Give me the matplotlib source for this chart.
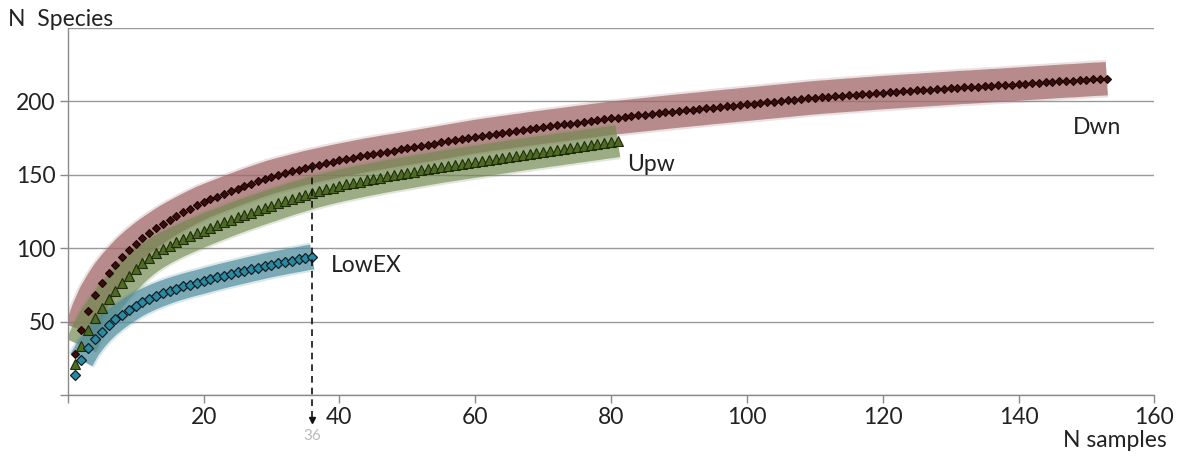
import matplotlib
matplotlib.use('agg')
import matplotlib.pyplot as plt

plt.rcParams['font.family'] = ['Lato', 'DejaVu Sans']

# rarefaction curves, one value per sample
dwn = [28.0, 44.3, 57.5, 68.0, 76.0, 83.0, 88.8, 94.0, 98.8, 103.0,
       106.8, 110.3, 113.5, 116.6, 119.5, 122.1, 124.6, 127.0, 129.3, 131.5,
       133.4, 135.2, 137.0, 138.8, 140.5, 142.2, 143.9, 145.5, 147.1, 148.6,
       149.9, 151.1, 152.3, 153.5, 154.7, 155.8, 156.8, 157.8, 158.8, 159.8,
       160.7, 161.6, 162.5, 163.4, 164.2, 165.0, 165.8, 166.5, 167.3, 168.0,
       168.8, 169.6, 170.4, 171.2, 172.0, 172.8, 173.6, 174.4, 175.2, 176.0,
       176.7, 177.4, 178.0, 178.7, 179.3, 180.0, 180.6, 181.3, 181.9, 182.5,
       183.1, 183.7, 184.3, 184.9, 185.5, 186.1, 186.7, 187.3, 187.9, 188.5,
       189.0, 189.5, 190.0, 190.5, 191.0, 191.5, 192.0, 192.5, 193.0, 193.5,
       193.9, 194.4, 194.8, 195.3, 195.8, 196.2, 196.7, 197.1, 197.6, 198.0,
       198.5, 198.9, 199.4, 199.8, 200.3, 200.7, 201.2, 201.6, 202.1, 202.5,
       202.9, 203.2, 203.6, 203.9, 204.3, 204.6, 205.0, 205.3, 205.7, 206.0,
       206.3, 206.6, 206.9, 207.2, 207.5, 207.8, 208.1, 208.4, 208.7, 209.0,
       209.3, 209.6, 209.8, 210.1, 210.4, 210.7, 210.9, 211.2, 211.5, 211.8,
       212.1, 212.4, 212.7, 213.0, 213.3, 213.6, 213.9, 214.1, 214.4, 214.7,
       215.0, 215.2, 215.5]

upw = [21.0, 33.6, 44.0, 52.5, 59.0, 65.3, 71.0, 76.3, 81.2, 85.8,
       89.8, 93.4, 96.4, 99.1, 101.6, 103.9, 106.0, 108.1, 110.1, 112.0,
       113.9, 115.7, 117.5, 119.3, 121.0, 122.7, 124.3, 125.9, 127.5, 129.0,
       130.6, 132.1, 133.6, 135.0, 136.4, 137.8, 139.0, 140.2, 141.3, 142.4,
       143.4, 144.4, 145.4, 146.3, 147.2, 148.1, 149.0, 149.8, 150.6, 151.4,
       152.2, 153.0, 153.8, 154.6, 155.4, 156.1, 156.8, 157.5, 158.2, 158.9,
       159.6, 160.3, 161.0, 161.7, 162.4, 163.1, 163.8, 164.4, 165.1, 165.7,
       166.4, 167.0, 167.7, 168.3, 169.0, 169.6, 170.3, 170.9, 171.6, 172.2,
       172.9]

lowex = [13.7, 23.7, 31.8, 38.0, 43.2, 47.6, 51.4, 54.8, 57.9, 60.8,
         63.3, 65.5, 67.5, 69.3, 71.0, 72.5, 73.9, 75.2, 76.4, 77.6,
         78.9, 80.1, 81.3, 82.4, 83.5, 84.6, 85.7, 86.7, 87.8, 88.8,
         89.7, 90.6, 91.5, 92.3, 93.2, 94.0]

names = ['Dwn', 'Upw', 'LowEX']
cut_sample = 36

fig = plt.figure(figsize=(11.95, 4.63), dpi=100)
ax = fig.add_axes([0.0567, 0.147, 0.9093, 0.7925])

x_dwn = list(range(1, len(dwn) + 1))
x_upw = list(range(1, len(upw) + 1))
x_low = list(range(1, len(lowex) + 1))

# confidence bands drawn as wide soft strokes (start from sample 2 to keep the tip narrow)
for xs, ys, col, w, a in [(x_dwn, dwn, '#a36a6a', 24, 0.72),
                          (x_upw, upw, '#71884f', 23, 0.62),
                          (x_low, lowex, '#4f8c9e', 18, 0.68)]:
    ax.plot(xs[1:], ys[1:], color=col, lw=w + 3, alpha=0.2, solid_capstyle='butt', zorder=2)
    ax.plot(xs[1:], ys[1:], color=col, lw=w, alpha=a, solid_capstyle='butt', zorder=2)

ax.plot(x_dwn, dwn, ls='none', marker='D', ms=4.4, mfc='#3a0c0c', mec='#1a0505',
        mew=0.8, zorder=4)
ax.plot(x_upw, upw, ls='none', marker='^', ms=7.5, mfc='#4d6b22', mec='#1f2c0a',
        mew=0.8, zorder=4)
ax.plot(x_low, lowex, ls='none', marker='D', ms=5.4, mfc='#2b8aa3', mec='#0f1f24',
        mew=0.9, zorder=4)

fs = 16.5
ax.text(148.0, 182, names[0], fontsize=fs, color='#222222', va='center')
ax.text(82.3, 157, names[1], fontsize=fs, color='#222222', va='center')
ax.text(38.8, 88, names[2], fontsize=fs, color='#222222', va='center')

# dashed marker at the LowEX sample size
ax.plot([cut_sample, cut_sample], [dwn[cut_sample - 1], -16], ls='--', color='#111111',
        lw=1.2, dashes=(4, 3), clip_on=False, zorder=5)
ax.plot(cut_sample, -17, marker='v', ms=5, color='#111111', clip_on=False, zorder=5)
ax.text(cut_sample, -23, str(cut_sample), ha='center', va='top', fontsize=11,
        color='#bbbbbb')

ax.set_xlim(0, 160)
ax.set_ylim(0, 250)
ax.set_xticks(range(0, 161, 20))
ax.set_xticklabels([''] + [str(v) for v in range(20, 161, 20)])
ax.set_yticks(range(0, 251, 50))
ax.set_yticklabels(['', '50', '100', '150', '200', ''])
ax.yaxis.get_major_ticks()[-1].tick1line.set_visible(False)
ax.tick_params(axis='both', length=6, width=1, color='#8a8a8a', labelsize=fs,
               labelcolor='#222222', pad=3)
ax.grid(axis='y', color='#9a9a9a', lw=1)
ax.set_axisbelow(True)
for s in ['top', 'right']:
    ax.spines[s].set_visible(False)
for s in ['left', 'bottom']:
    ax.spines[s].set_color('#8a8a8a')
    ax.spines[s].set_linewidth(1)

fig.text(0.007, 0.958, 'N  Species', fontsize=fs, color='#222222', va='center')
fig.text(0.976, 0.048, 'N samples', fontsize=fs, color='#222222', va='center', ha='right')

fig.savefig('out.png', dpi=100)
